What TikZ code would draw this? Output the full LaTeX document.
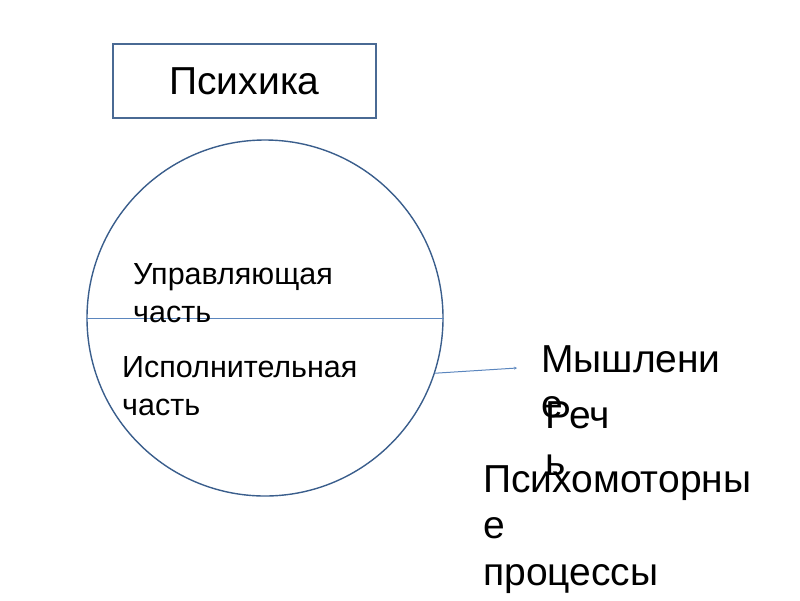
\documentclass[tikz,border=0pt]{standalone}
\usepackage{fontspec}
\setmainfont{Liberation Sans}
\usepackage{color}
\usetikzlibrary{arrows.meta,positioning}
\definecolor{boxblue}{HTML}{4A6A94}
\definecolor{ringblue}{HTML}{3A5E8C}
\definecolor{lineblue}{HTML}{5B86BE}

\begin{document}
\begin{tikzpicture}
    [x=1pt, y=-1pt,
    thin line/.style={draw=lineblue, line width=1pt},
    big/.style={inner sep=0pt, anchor=base west, align=left, font=\fontsize{39}{45}\selectfont},
    small/.style={inner sep=0pt, anchor=base west, align=left, font=\fontsize{30.5}{37.5}\selectfont}]
    \useasboundingbox (0,0) rectangle (800,600);
        %% Psyche box and circle
    \node[draw=boxblue, line width=2.2pt, minimum width=263pt, minimum height=74pt,
          font=\fontsize{39}{45}\selectfont] (P) at (244.5,81) {Психика};
    \node[draw=ringblue, line width=1.4pt, circle, minimum size=356pt, inner sep=0pt] (C) at (265,318) {};
    \draw[thin line] (C.west) -- (C.east);

    \node[small] (C1) at (133,322) {Управляющая\\часть};
    \node[small] (C2) at (122,415) {Исполнительная\\часть};

        %% Processes
    \coordinate (T) at (517,368);
    \draw[thin line, -{Stealth[length=3pt, width=3pt]}] (C.-18) to (T);

    \node[big] (M) at (541,417) {Мышлени\\е};
    \node[big, font=\fontsize{39}{47}\selectfont] (R) at (545,475) {Реч\\ь};
    \node[big, font=\fontsize{39}{46.5}\selectfont] (S) at (483,585) {Психомоторны\\е\\процессы};
    \end{tikzpicture}
\end{document}
